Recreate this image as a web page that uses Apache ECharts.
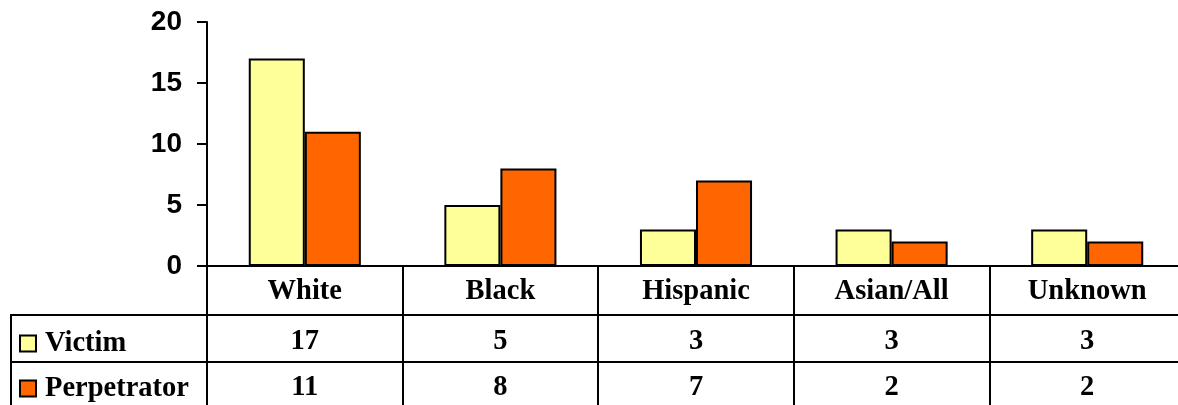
<!DOCTYPE html>
<html>
<head>
<meta charset="utf-8">
<title>Victim and perpetrator by race</title>
<script src="https://cdn.jsdelivr.net/npm/echarts@6/dist/echarts.min.js"></script>
<style>
  html, body { margin: 0; padding: 0; background: #ffffff; overflow: hidden; }
  /* the canvas is a little wider than the window: the last column runs past the edge */
  #chart { width: 1185px; height: 405px; }
</style>
</head>
<body>
<div id="chart"></div>
<script>
// Categories and the two series shown in the bars and in the data table
const categories = ['White', 'Black', 'Hispanic', 'Asian/All', 'Unknown'];
const victim = [17, 5, 3, 3, 3];
const perpetrator = [11, 8, 7, 2, 2];
const seriesNames = ['Victim', 'Perpetrator'];
const yTicks = { min: 0, max: 20, interval: 5 };

const VICTIM_COLOR = '#FFFF99';
const PERP_COLOR = '#FF6600';
const SERIF = '"Liberation Serif", "Times New Roman", serif';
const SANS = '"Liberation Sans", Arial, Helvetica, sans-serif';

// Plot area and table geometry
const GRID_LEFT = 207, GRID_TOP = 22, GRID_BOTTOM = 139, GRID_RIGHT = 0;
const ROW1 = 49, ROW2 = 96;            // table row lines below the category axis
const TABLE_LEFT = 10;

const chart = echarts.init(document.getElementById('chart'), null, { renderer: 'canvas' });
const H = 405;
const axisY = H - GRID_BOTTOM;

const rowLabel = {
  fontFamily: SERIF, fontWeight: 'bold', fontSize: 28.5, color: '#000', margin: 11
};

const legendCommon = {
  orient: 'vertical', left: 19, icon: 'rect', itemWidth: 16, itemHeight: 16,
  itemGap: 0, selectedMode: false,
  textStyle: { fontFamily: SERIF, fontWeight: 'bold', fontSize: 28.5, color: '#000', padding: [0, 0, 0, 4] },
  padding: 0
};

chart.setOption({
  animation: false,
  backgroundColor: '#ffffff',
  grid: { left: GRID_LEFT, top: GRID_TOP, bottom: GRID_BOTTOM, right: GRID_RIGHT, containLabel: false },
  legend: [
    Object.assign({}, legendCommon, { top: 329, data: [seriesNames[0]] }),
    Object.assign({}, legendCommon, { top: 374, data: [seriesNames[1]] })
  ],
  xAxis: [
    {
      type: 'category', data: categories, position: 'bottom',
      axisLine: { lineStyle: { color: '#000', width: 2 } },
      axisTick: { show: true, length: GRID_BOTTOM + 2, lineStyle: { color: '#000', width: 2 } },
      axisLabel: Object.assign({}, rowLabel, { margin: 11 })
    },
    {
      type: 'category', data: victim.map(String), position: 'bottom', offset: ROW1,
      axisLine: { lineStyle: { color: '#000', width: 2 } },
      axisTick: { show: false },
      axisLabel: Object.assign({}, rowLabel, { margin: 12 })
    },
    {
      type: 'category', data: perpetrator.map(String), position: 'bottom', offset: ROW2,
      axisLine: { lineStyle: { color: '#000', width: 2 } },
      axisTick: { show: false },
      axisLabel: Object.assign({}, rowLabel, { margin: 11 })
    }
  ],
  yAxis: {
    type: 'value', min: yTicks.min, max: yTicks.max, interval: yTicks.interval,
    axisLine: { show: true, lineStyle: { color: '#000', width: 2 } },
    axisTick: { show: true, length: 10, lineStyle: { color: '#000', width: 2 } },
    splitLine: { show: false },
    axisLabel: { fontFamily: SANS, fontWeight: 'bold', fontSize: 28, color: '#000', margin: 25 }
  },
  series: [
    {
      name: seriesNames[0], type: 'bar', data: victim, xAxisIndex: 0,
      barGap: '0%', barCategoryGap: '42.7%',
      itemStyle: { color: VICTIM_COLOR, borderColor: '#000', borderWidth: 2 }
    },
    {
      name: seriesNames[1], type: 'bar', data: perpetrator, xAxisIndex: 0,
      barGap: '0%', barCategoryGap: '42.7%',
      itemStyle: { color: PERP_COLOR, borderColor: '#000', borderWidth: 2 }
    }
  ],
  // Left part of the data table holding the series keys
  graphic: [
    { type: 'line', shape: { x1: TABLE_LEFT, y1: axisY + ROW1, x2: GRID_LEFT, y2: axisY + ROW1 },
      style: { stroke: '#000', lineWidth: 2 } },
    { type: 'line', shape: { x1: TABLE_LEFT, y1: axisY + ROW2, x2: GRID_LEFT, y2: axisY + ROW2 },
      style: { stroke: '#000', lineWidth: 2 } },
    { type: 'line', shape: { x1: TABLE_LEFT + 1, y1: axisY + ROW1, x2: TABLE_LEFT + 1, y2: H + 2 },
      style: { stroke: '#000', lineWidth: 2 } }
  ]
});
</script>
</body>
</html>
